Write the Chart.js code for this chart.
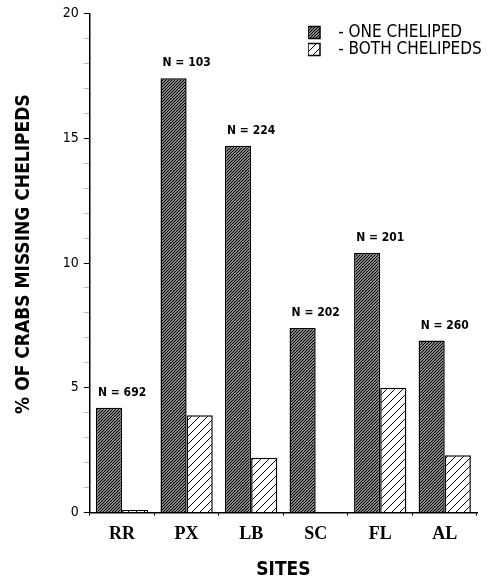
<!DOCTYPE html>
<html>
<head>
<meta charset="utf-8">
<script src="https://cdn.jsdelivr.net/npm/chart.js@4"></script>
<style>
  html, body { margin: 0; padding: 0; background: #fff; }
  #wrap { width: 488px; height: 581px; }
</style>
</head>
<body>
<div id="wrap"><canvas id="crabChart"></canvas></div>
<script>
const sites = ["RR", "PX", "LB", "SC", "FL", "AL"];
const oneCheliped = [4.2, 17.4, 14.7, 7.4, 10.4, 6.9];
const bothChelipeds = [0.1, 3.9, 2.2, 0, 5.0, 2.3];
const sampleSizes = [692, 103, 224, 202, 201, 260];
const yTickLabels = [0, 5, 10, 15, 20];

const narrow = "'Liberation Sans Narrow', 'DejaVu Sans Condensed', 'Roboto Condensed', sans-serif";

// diagonal hatch fill, "/" direction
function hatch(size, lineWidth) {
  const c = document.createElement("canvas");
  c.width = size;
  c.height = size;
  const g = c.getContext("2d");
  g.fillStyle = "#fff";
  g.fillRect(0, 0, size, size);
  g.strokeStyle = "#000";
  g.lineWidth = lineWidth;
  g.beginPath();
  g.moveTo(0, size); g.lineTo(size, 0);
  g.moveTo(-size / 2, size / 2); g.lineTo(size / 2, -size / 2);
  g.moveTo(size / 2, size * 1.5); g.lineTo(size * 1.5, size / 2);
  g.stroke();
  return g.createPattern(c, "repeat");
}

const denseHatch = hatch(3, 1.4);
const sparseHatch = hatch(8, 1);

// put the legend box in the top right corner of the plot
const legendPlace = {
  id: "legendPlace",
  afterLayout(chart) {
    const lg = chart.legend;
    const w = lg.width;
    lg.left = 308;
    lg.right = lg.left + w;
    lg.top = 24;
    lg.bottom = chart.chartArea.bottom;
  }
};

// "N = ..." above each site
const nLabels = {
  id: "nLabels",
  afterDatasetsDraw(chart) {
    const ctx = chart.ctx;
    const m0 = chart.getDatasetMeta(0);
    const m1 = chart.getDatasetMeta(1);
    ctx.save();
    ctx.font = "bold 12px " + narrow;
    ctx.fillStyle = "#000";
    ctx.textAlign = "center";
    ctx.textBaseline = "middle";
    sampleSizes.forEach((n, i) => {
      const a = m0.data[i];
      const b = m1.data[i];
      ctx.fillText("N = " + n, (a.x + b.x) / 2, a.y - 15);
    });
    ctx.restore();
  }
};

const ctx = document.getElementById("crabChart").getContext("2d");
new Chart(ctx, {
  type: "bar",
  data: {
    labels: sites,
    datasets: [
      {
        label: "  - ONE CHELIPED",
        data: oneCheliped,
        backgroundColor: denseHatch,
        borderColor: "#000",
        borderWidth: 1.5,
        categoryPercentage: 0.81,
        barPercentage: 1.0
      },
      {
        label: "  - BOTH CHELIPEDS",
        data: bothChelipeds,
        backgroundColor: sparseHatch,
        borderColor: "#000",
        borderWidth: 1.5,
        categoryPercentage: 0.81,
        barPercentage: 1.0
      }
    ]
  },
  options: {
    responsive: true,
    maintainAspectRatio: false,
    animation: false,
    layout: { padding: { top: 10, right: 11, bottom: 0, left: 4 } },
    plugins: {
      legend: {
        position: "chartArea",
        align: "start",
        labels: {
          boxWidth: 12,
          boxHeight: 12,
          padding: 0,
          color: "#000",
          font: { family: narrow, size: 17, lineHeight: 0.95 }
        }
      },
      tooltip: { enabled: false }
    },
    scales: {
      x: {
        grid: { drawOnChartArea: false, tickLength: 3, color: "#000" },
        border: { color: "#000", width: 1.5 },
        ticks: {
          color: "#000",
          padding: 8,
          font: { family: "'Liberation Serif', 'Times New Roman', serif", weight: "bold", size: 18 }
        },
        title: {
          display: true,
          text: "SITES",
          color: "#000",
          padding: { top: 5, bottom: 0 },
          font: { family: narrow, weight: "bold", size: 19 }
        }
      },
      y: {
        min: 0,
        max: 20,
        grid: {
          drawOnChartArea: false,
          tickLength: 6,
          tickColor: (c) => (yTickLabels.includes(c.tick.value) ? "#000" : "#bbb")
        },
        border: { color: "#000", width: 1.5 },
        ticks: {
          stepSize: 1,
          autoSkip: false,
          color: "#000",
          padding: 5,
          font: { family: narrow, size: 14 },
          callback: (v) => (yTickLabels.includes(v) ? v : "")
        },
        title: {
          display: true,
          text: "   % OF CRABS MISSING CHELIPEDS",
          color: "#000",
          padding: { top: 9, bottom: 22 },
          font: { family: narrow, weight: "bold", size: 19 }
        }
      }
    }
  },
  plugins: [legendPlace, nLabels]
});
</script>
</body>
</html>
